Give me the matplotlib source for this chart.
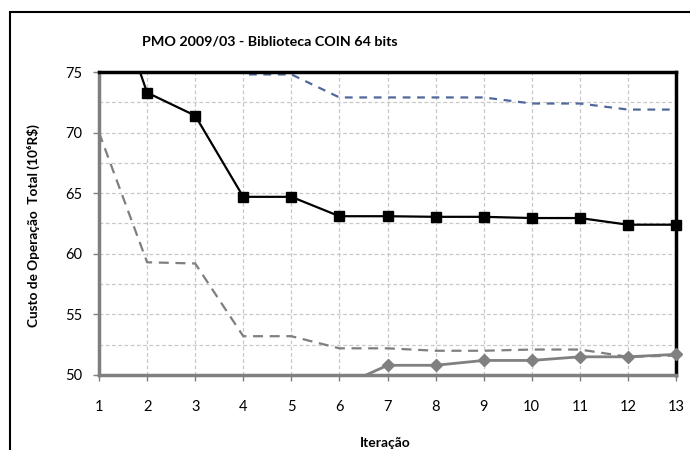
import numpy as np
import matplotlib.pyplot as plt
from matplotlib.patches import Rectangle

plt.rcParams['font.family'] = ['Lato', 'DejaVu Sans']

# iterations
iteracao = [1, 2, 3, 4, 5, 6, 7, 8, 9, 10, 11, 12, 13]

# solid black with squares
custo_total = [84.8, 73.3, 71.4, 64.7, 64.7, 63.1, 63.1, 63.05, 63.05, 62.95, 62.95, 62.4, 62.4]
# upper dashed (blue)
limite_sup = [98.0, 90.0, 85.0, 74.8, 74.8, 72.9, 72.9, 72.9, 72.9, 72.4, 72.4, 71.9, 71.9]
# lower dashed (gray)
limite_inf = [70.0, 59.3, 59.2, 53.2, 53.2, 52.2, 52.2, 52.0, 52.0, 52.1, 52.1, 51.5, 51.6]
# solid gray with diamonds
custo_inf = [44.0, 45.5, 46.5, 47.5, 48.3, 49.0, 50.8, 50.8, 51.2, 51.2, 51.5, 51.5, 51.7]

y_min, y_max = 50, 75

fig = plt.figure(figsize=(6.9, 4.5), dpi=100)
ax = fig.add_axes([0.1435, 0.1667, 0.8362, 0.6733])

# outer chart border (runs off the image to the right and bottom)
fig.patches.append(Rectangle((10 / 690, -0.2), 1.5, 0.2 + (1 - 12 / 450),
                             transform=fig.transFigure, fill=False,
                             edgecolor='black', linewidth=1.5))

ax.plot(iteracao, limite_sup, color='#50699a', lw=1.6, dashes=(3.5, 3))
ax.plot(iteracao, limite_inf, color='#7f7f7f', lw=1.6, dashes=(4.5, 3))
ax.plot(iteracao, custo_inf, color='#808080', lw=2.0)
ax.plot(iteracao, custo_total, color='black', lw=1.6)

# markers drawn unclipped, only for points inside the range
def pts_in(xs, ys):
    xs = np.array(xs); ys = np.array(ys)
    m = (ys >= y_min) & (ys <= y_max)
    return xs[m], ys[m]

xi, yi = pts_in(iteracao, custo_inf)
ax.plot(xi, yi, ls='none', marker='D', ms=6.5, color='#808080', clip_on=False, zorder=5)
xs, ys = pts_in(iteracao, custo_total)
ax.plot(xs, ys, ls='none', marker='s', ms=7.5, color='black', clip_on=False, zorder=6)

ax.set_xlim(1, 13)
ax.set_ylim(y_min, y_max)
ax.set_xticks(iteracao)
ax.set_yticks([50, 55, 60, 65, 70, 75])
ax.set_yticks([52.5, 57.5, 62.5, 67.5, 72.5], minor=True)
ax.tick_params(axis='y', which='minor', length=0)
ax.tick_params(axis='both', which='major', labelsize=10.5, direction='out',
               length=4, width=1, color='#808080')
ax.tick_params(axis='x', pad=14)
ax.tick_params(axis='y', pad=8)

ax.grid(True, which='both', color='#c8c8c8', ls=(0, (3, 2)), lw=0.9)
ax.set_axisbelow(True)

for side in ['left', 'bottom']:
    ax.spines[side].set_color('#7f7f7f')
    ax.spines[side].set_linewidth(2.5)
for side in ['top', 'right']:
    ax.spines[side].set_color('black')
    ax.spines[side].set_linewidth(2.5)
for s in ax.spines.values():
    s.set_zorder(4)

fig.text(270 / 690, 1 - 42 / 450, 'PMO 2009/03 - Biblioteca COIN 64 bits',
         ha='center', va='center', fontsize=10.3, fontweight='bold')
ax.set_xlabel('Iteração', fontsize=10, fontweight='bold')
ax.xaxis.set_label_coords((385 - 99) / 577, -(437 - 375) / 303)
ax.set_ylabel('Custo de Operação  Total (10⁶R$)', fontsize=9.8, fontweight='bold')
ax.yaxis.set_label_coords(-(99 - 40) / 577, (375 - 226) / 303)

fig.savefig('out.png', dpi=100)
